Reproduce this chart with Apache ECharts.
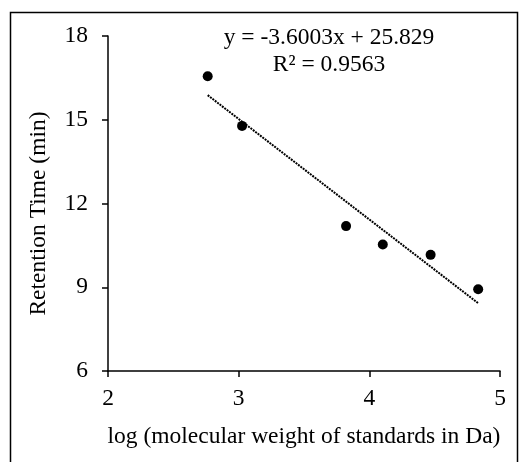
<!DOCTYPE html>
<html><head><meta charset="utf-8">
<script src="https://cdn.jsdelivr.net/npm/echarts@6/dist/echarts.min.js"></script>
<style>html,body{margin:0;padding:0;background:#fff}#c{width:520px;height:462px}</style>
</head><body><div id="c"></div>
<script>
const logMW = [2.763, 3.026, 3.822, 4.103, 4.469, 4.833];
const retentionTime = [16.56, 14.78, 11.19, 10.53, 10.16, 8.93];
const trendSlope = [-3.6003];
const trendIntercept = [25.829];
const equationLines = ['y = -3.6003x + 25.829', 'R² = 0.9563'];
const xTicks = [2, 3, 4, 5];
const yTicks = [6, 9, 12, 15, 18];

const font = "'Liberation Serif','Times New Roman',serif";
const fs = 23.5;
const xMin = Math.min(...logMW), xMax = Math.max(...logMW);
const trend = [xMin, xMax].map(x => [x, trendIntercept[0] + trendSlope[0] * x]);
const pts = logMW.map((x, i) => [x, retentionTime[i]]);

const chart = echarts.init(document.getElementById('c'), null, {renderer: 'canvas'});
chart.setOption({
  animation: false,
  backgroundColor: '#fff',
  grid: {left: 108, right: 20, top: 36, bottom: 91, containLabel: false},
  xAxis: {
    type: 'value', min: xTicks[0], max: xTicks[xTicks.length - 1], interval: 1,
    axisLine: {show: true, onZero: false, lineStyle: {color: '#000', width: 1.5}},
    axisTick: {show: true, length: 6, lineStyle: {color: '#000', width: 1.5}},
    axisLabel: {color: '#000', fontFamily: font, fontSize: fs, margin: 16},
    splitLine: {show: false},
    name: 'log (molecular weight of standards in Da)', nameLocation: 'middle', nameGap: 54,
    nameTextStyle: {color: '#000', fontFamily: font, fontSize: fs}
  },
  yAxis: {
    type: 'value', min: yTicks[0], max: yTicks[yTicks.length - 1], interval: 3,
    axisLine: {show: true, onZero: false, lineStyle: {color: '#000', width: 1.5}},
    axisTick: {show: true, length: 6, lineStyle: {color: '#000', width: 1.5}},
    axisLabel: {color: '#000', fontFamily: font, fontSize: fs, margin: 20},
    splitLine: {show: false},
    name: 'Retention Time (min)', nameLocation: 'middle', nameGap: 57, nameRotate: 90,
    nameTextStyle: {color: '#000', fontFamily: font, fontSize: fs, padding: [0, 20, 0, 0]}
  },
  series: [
    {type: 'line', data: trend, symbol: 'none', silent: true,
     lineStyle: {color: '#000', width: 2, type: [2, 1]}, z: 2},
    {type: 'scatter', data: pts, symbol: 'circle', symbolSize: 10,
     itemStyle: {color: '#000', opacity: 1}, z: 3}
  ],
  graphic: [
    {type: 'rect', shape: {x: 10.5, y: 12.5, width: 507, height: 470},
     style: {fill: 'none', stroke: '#000', lineWidth: 1.5}, silent: true},
    {type: 'text', x: 329, y: 38, style: {text: equationLines[0], fill: '#000', font: fs + "px " + font, textAlign: 'center', textVerticalAlign: 'middle'}},
    {type: 'text', x: 329, y: 65, style: {text: equationLines[1], fill: '#000', font: fs + "px " + font, textAlign: 'center', textVerticalAlign: 'middle'}}
  ]
});
</script></body></html>
